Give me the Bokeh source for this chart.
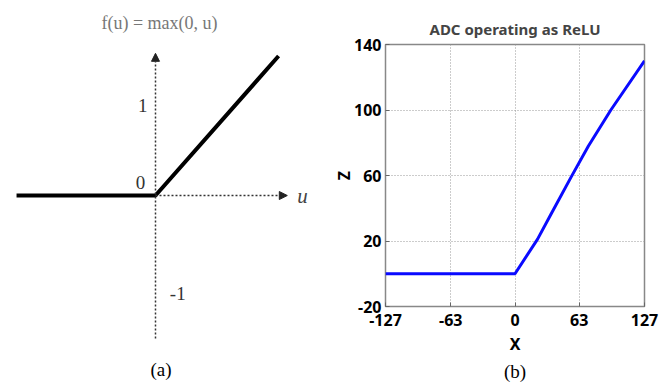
from bokeh.plotting import figure
from bokeh.layouts import row, column
from bokeh.models import Range1d, Arrow, NormalHead, Title, FixedTicker
from bokeh.core.properties import value
from bokeh.embed import file_html
from bokeh.resources import INLINE

# ---------------- data: panel (a) ----------------
relu_u = [-1.75, 0.0, 1.55]
relu_f = [0.0, 0.0, 1.55]
a_tick_vals = [1, 0, -1]
a_tick_text = ["1", "0", "-1"]
a_title = "f(u) = max(0, u)"
a_axis_name = "u"
a_caption = "(a)"

# ---------------- data: panel (b) ----------------
adc_x = [-127, 0, 22, 35, 55, 72, 94, 127]
adc_z = [0, 0, 21, 36, 59, 78, 100, 130]
b_xticks = [-127, -63, 0, 63, 127]
b_yticks = [-20, 20, 60, 100, 140]
b_title = "ADC operating as ReLU"
b_xlabel = "X"
b_ylabel = "Z"
b_caption = "(b)"

SERIF = "Liberation Serif"
SANS = "Noto Sans"

# ---------------- panel (a) ----------------
pa = figure(width=325, height=385, output_backend="svg", toolbar_location=None,
            x_range=Range1d(-1.952, 2.141), y_range=Range1d(-2.111, 2.167),
            min_border_left=0, min_border_right=0, min_border_top=0,
            min_border_bottom=0, x_axis_type=None, y_axis_type=None)
pa.grid.visible = False
pa.outline_line_color = None

# dotted axes with arrow heads
pa.add_layout(Arrow(x_start=0, y_start=-1.59, x_end=0, y_end=1.58,
                    line_dash="2 2", line_width=1.5, line_color="#333333",
                    end=NormalHead(size=8, fill_color="#222222", line_color="#222222")))
pa.add_layout(Arrow(x_start=0, y_start=0, x_end=1.66, y_end=0,
                    line_dash="2 2", line_width=1.5, line_color="#333333",
                    end=NormalHead(size=8, fill_color="#222222", line_color="#222222")))

pa.line(relu_u, relu_f, line_width=4, line_color="black")

pa.text(x=[-0.16, -0.19, 0.28], y=a_tick_vals, text=a_tick_text,
        y_offset=[0, -13, 8],
        text_font=value(SERIF), text_font_size="19px", text_color="#333333",
        text_align="center", text_baseline="middle")
pa.text(x=[1.85], y=[0], text=[a_axis_name],
        text_font=value(SERIF), text_font_style="italic", text_font_size="21px",
        text_color="#444444", text_align="center", text_baseline="middle")
pa.text(x=[0.05], y=[1.92], text=[a_title],
        text_font=value(SERIF), text_font_size="18px", text_color="#777777",
        text_align="center", text_baseline="middle")
pa.text(x=[0.07], y=[-1.93], text=[a_caption],
        text_font=value(SERIF), text_font_size="19px", text_color="black",
        text_align="center", text_baseline="middle")

# ---------------- panel (b) ----------------
pb = figure(width=347, height=385, output_backend="svg", toolbar_location=None,
            x_range=Range1d(-127, 127), y_range=Range1d(-20, 140),
            min_border_left=60, min_border_right=28, min_border_top=44,
            min_border_bottom=79, title=b_title)
pb.title.align = "center"
pb.title.text_font = SANS
pb.title.text_font_style = "bold"
pb.title.text_font_size = "15px"
pb.title.standoff = 12

pb.outline_line_color = "#888888"
pb.outline_line_width = 1.5

for ax in (pb.xaxis[0], pb.yaxis[0]):
    ax.axis_line_color = None
    ax.major_tick_out = 0
    ax.major_tick_in = 4
    ax.major_tick_line_color = "#666666"
    ax.minor_tick_line_color = None
    ax.major_label_text_font = SANS
    ax.major_label_text_font_style = "bold"
    ax.major_label_text_font_size = "16px"
    ax.major_label_text_color = "black"
    ax.axis_label_text_font = SANS
    ax.axis_label_text_font_style = "bold"
    ax.axis_label_text_font_size = "16px"
    ax.axis_label_text_color = "black"

pb.xaxis[0].ticker = FixedTicker(ticks=b_xticks)
pb.yaxis[0].ticker = FixedTicker(ticks=b_yticks)
pb.xaxis[0].major_label_overrides = {t: str(t) for t in b_xticks}
pb.yaxis[0].major_label_overrides = {t: str(t) for t in b_yticks}
pb.xaxis[0].axis_label = b_xlabel
pb.yaxis[0].axis_label = b_ylabel
pb.xaxis[0].major_label_standoff = 7
pb.xaxis[0].axis_label_standoff = 4
pb.yaxis[0].major_label_standoff = 4
pb.yaxis[0].axis_label_standoff = -4

pb.grid.grid_line_dash = "1 2"
pb.grid.grid_line_color = "#999999"
pb.grid.grid_line_width = 1

pb.line(adc_x, adc_z, line_width=3, line_color="#0a0aff")

pb.add_layout(Title(text=b_caption, align="center", text_font=SERIF,
                    text_font_size="19px", text_font_style="normal",
                    text_color="black", standoff=2), "below")

layout = row(column(pa), column(pb))
open("out.html", "w").write(file_html(layout, INLINE))
